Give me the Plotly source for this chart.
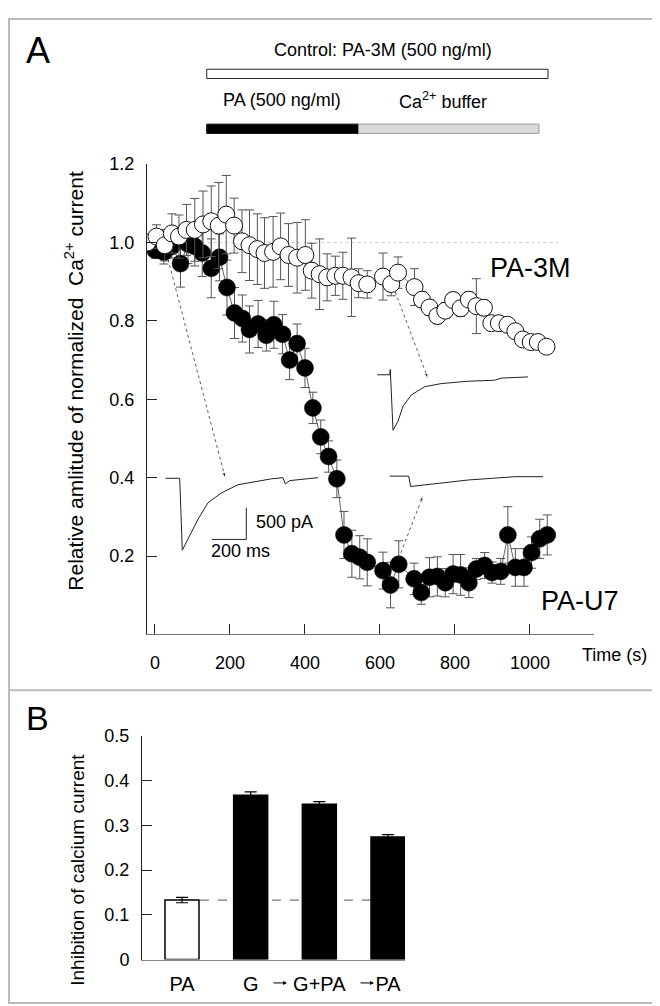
import plotly.graph_objects as go

W, H = 660, 1006
FONT = "Liberation Sans, Arial, sans-serif"


def px(x):
    return x / W


def py(y):
    return 1 - y / H


# ---- Panel A data: time (s), normalized amplitude, error
u7_t = [-20, 1, 24, 45, 68, 88, 106, 126, 150, 172, 192, 212, 233, 252, 275, 297, 317, 340,
        359, 379, 400, 421, 442, 463, 485, 504, 525, 546, 566, 608, 628, 650, 691, 710, 732,
        753, 774, 795, 815, 837, 857, 879, 899, 922, 941, 961, 984, 1004, 1026, 1046]
u7_v = [1.00, 0.98, 0.975, 0.99, 0.946, 0.996, 0.99, 0.973, 0.934, 0.962, 0.885, 0.82, 0.806,
        0.778, 0.792, 0.763, 0.79, 0.766, 0.70, 0.742, 0.68, 0.578, 0.504, 0.454, 0.397, 0.254,
        0.206, 0.197, 0.184, 0.163, 0.126, 0.179, 0.142, 0.107, 0.146, 0.148, 0.132, 0.154,
        0.152, 0.132, 0.167, 0.176, 0.158, 0.161, 0.254, 0.171, 0.171, 0.209, 0.244, 0.254]
u7_e = [0.01, 0.02, 0.03, 0.03, 0.06, 0.05, 0.05, 0.06, 0.075, 0.06, 0.07, 0.065, 0.06, 0.06,
        0.06, 0.04, 0.06, 0.05, 0.05, 0.05, 0.05, 0.04, 0.043, 0.04, 0.048, 0.06, 0.06, 0.055,
        0.06, 0.047, 0.058, 0.06, 0.04, 0.03, 0.05, 0.05, 0.036, 0.05, 0.052, 0.038, 0.027,
        0.033, 0.027, 0.033, 0.072, 0.048, 0.048, 0.04, 0.05, 0.051]

m3_t = [-20, 4, 26, 45, 64, 84, 106, 128, 150, 170, 190, 211, 232, 252, 273, 292, 315, 335,
        356, 379, 401, 418, 439, 459, 481, 501, 524, 543, 566, 608, 630, 648, 692, 712, 732,
        753, 774, 795, 815, 837, 857, 877, 897, 917, 940, 961, 981, 1002, 1021, 1044]
m3_v = [1.00, 1.015, 0.993, 1.023, 1.015, 1.032, 1.032, 1.046, 1.054, 1.043, 1.071, 1.043,
        1.003, 0.993, 0.983, 0.973, 0.976, 0.99, 0.968, 0.961, 0.968, 0.928, 0.919, 0.911,
        0.915, 0.915, 0.911, 0.896, 0.893, 0.913, 0.894, 0.923, 0.886, 0.854, 0.834, 0.8125,
        0.826, 0.853, 0.832, 0.854, 0.8375, 0.8335, 0.794, 0.794, 0.79, 0.7735, 0.7525,
        0.746, 0.746, 0.734]
m3_e = [0.02, 0.03, 0.04, 0.05, 0.055, 0.065, 0.08, 0.085, 0.09, 0.11, 0.10, 0.07, 0.08, 0.09,
        0.09, 0.09, 0.09, 0.085, 0.08, 0.09, 0.09, 0.07, 0.09, 0.06, 0.05, 0.06, 0.10, 0.037,
        0.035, 0.06, 0.03, 0.04, 0.047, 0.02, 0.02, 0.02, 0.02, 0.02, 0.02, 0.02, 0.07, 0.02,
        0.015, 0.015, 0.015, 0.01, 0.01, 0.01, 0.01, 0.01]

# current traces drawn as insets (in axis units)
trace1_t = [27.5, 65.9, 72.8, 88, 114.7, 141.3, 176.8, 221.3, 265.9, 310.1, 341.3, 347.5, 359.2, 434.7]
trace1_v = [0.3985, 0.3985, 0.215, 0.244, 0.294, 0.336, 0.361, 0.382, 0.39, 0.397, 0.40, 0.384, 0.3925, 0.40]
trace2_t = [625.9, 676.5, 681.9, 745.9, 834.7, 959.2, 1034.7]
trace2_v = [0.404, 0.404, 0.3775, 0.384, 0.394, 0.4025, 0.4025]
trace3_t = [592.8, 625.9, 627.5, 634.7, 648, 661.3, 683.5, 719.2, 763.5, 834.7, 905.9, 923.5, 994.7]
trace3_v = [0.6625, 0.6625, 0.676, 0.521, 0.544, 0.582, 0.611, 0.632, 0.64, 0.646, 0.6485, 0.654, 0.657]

arrows = [((34.7, 0.957), (187.5, 0.3985)),
          ((640.8, 0.8735), (728, 0.6525)),
          ((649.9, 0.194), (714.7, 0.354))]

scale_t = [152, 243.5, 243.5]
scale_v = [0.2425, 0.2425, 0.3235]

# application periods (s)
control_bar = (138, 1048)
pa_bar = (138, 543)
buffer_bar = (543, 1024)

# ---- Panel B data
b_labels = ["PA", "G", "G+PA", "PA"]
b_values = [0.133, 0.367, 0.347, 0.274]
b_errors = [0.006, 0.0075, 0.006, 0.005]
b_colors = ["white", "black", "black", "black"]

fig = go.Figure()

fig.add_trace(go.Scatter(
    x=u7_t, y=u7_v, mode="lines+markers",
    line=dict(color="#222", width=0.7),
    marker=dict(size=17, color="black", line=dict(color="black", width=0.5)),
    error_y=dict(type="data", array=u7_e, color="#555", thickness=1, width=4.5),
    xaxis="x", yaxis="y", showlegend=False))

fig.add_trace(go.Scatter(
    x=m3_t, y=m3_v, mode="lines+markers",
    line=dict(color="#444", width=0.7),
    marker=dict(size=17, color="white", line=dict(color="#111", width=1)),
    error_y=dict(type="data", array=m3_e, color="#555", thickness=1, width=4.5),
    xaxis="x", yaxis="y", showlegend=False))

for tt, vv in [(trace1_t, trace1_v), (trace2_t, trace2_v), (trace3_t, trace3_v)]:
    fig.add_trace(go.Scatter(x=tt, y=vv, mode="lines", line=dict(color="#222", width=1),
                             xaxis="x", yaxis="y", showlegend=False))

for (a, b) in arrows:
    fig.add_trace(go.Scatter(
        x=[a[0], b[0]], y=[a[1], b[1]], mode="lines+markers",
        line=dict(color="#333", width=0.8, dash="dot"),
        marker=dict(symbol=["circle", "arrow"], size=[1, 6], opacity=[0, 1],
                    angleref="previous", color="#333"),
        xaxis="x", yaxis="y", showlegend=False))

fig.add_trace(go.Scatter(x=scale_t, y=scale_v, mode="lines", line=dict(color="#222", width=1),
                         xaxis="x", yaxis="y", showlegend=False))

fig.add_trace(go.Bar(
    x=list(range(len(b_values))), y=b_values, width=0.495,
    marker=dict(color=b_colors, line=dict(color="black", width=1.5)),
    error_y=dict(type="data", array=b_errors, color="black", thickness=1.2, width=6),
    xaxis="x2", yaxis="y2", showlegend=False))

axis_common = dict(showgrid=False, zeroline=False, showline=True, ticks="inside",
                   ticklen=10, tickcolor="#222", linecolor="#222",
                   tickfont=dict(family=FONT, size=18, color="black"))

fig.update_layout(
    width=W, height=H, margin=dict(l=0, r=0, t=0, b=0),
    paper_bgcolor="white", plot_bgcolor="rgba(0,0,0,0)",
    font=dict(family=FONT, color="black"),
    xaxis=dict(domain=[px(139), px(586)], range=[-21.3, 1170.7], anchor="y",
               tickvals=[0, 200, 400, 600, 800, 1000], ticklabelstandoff=12,
               **{**axis_common, "linecolor": "#777"}),
    yaxis=dict(domain=[py(629), py(149)], range=[0, 1.2], anchor="x",
               tickvals=[0.2, 0.4, 0.6, 0.8, 1.0, 1.2], tickformat=".1f",
               ticklabelstandoff=8, **axis_common),
    xaxis2=dict(domain=[px(134), px(397)], range=[-0.5825, 3.2475], anchor="y2",
                tickvals=list(range(len(b_labels))), ticktext=b_labels,
                showgrid=False, zeroline=False, showline=True, linecolor="#888",
                ticks="", ticklabelstandoff=6,
                tickfont=dict(family=FONT, size=20, color="black")),
    yaxis2=dict(domain=[py(960.7), py(732.3)], range=[0, 0.5], anchor="x2",
                tickvals=[0, 0.1, 0.2, 0.3, 0.4, 0.5],
                ticktext=["0", "0.1", "0.2", "0.3", "0.4", "0.5"],
                ticklabelstandoff=8, **axis_common),
)

shapes = [
    # figure frame and panel divider
    dict(type="rect", xref="paper", yref="paper", x0=px(1), x1=px(658), y0=py(1005), y1=py(1),
         line=dict(color="#bbb", width=2)),
    dict(type="line", xref="paper", yref="paper", x0=px(1), x1=px(658), y0=py(686), y1=py(686),
         line=dict(color="#bbb", width=2)),
    # reference level 1.0
    dict(type="line", xref="x", yref="y", x0=-20, x1=1079, y0=1.0, y1=1.0, layer="below",
         line=dict(color="#ccc", width=1, dash="dot")),
    # application bars
    dict(type="rect", xref="x", yref="paper", x0=control_bar[0], x1=control_bar[1],
         y0=py(61.7), y1=py(52.3), fillcolor="white", line=dict(color="#222", width=1)),
    dict(type="rect", xref="x", yref="paper", x0=pa_bar[0], x1=pa_bar[1],
         y0=py(117.7), y1=py(108.3), fillcolor="black", line=dict(color="black", width=1)),
    dict(type="rect", xref="x", yref="paper", x0=buffer_bar[0], x1=buffer_bar[1],
         y0=py(117.7), y1=py(108.3), fillcolor="#dadada", line=dict(color="#999", width=1)),
    # PA level in panel B
    dict(type="line", xref="x2", yref="y2", x0=0, x1=3, y0=b_values[0], y1=b_values[0],
         layer="below", line=dict(color="#777", width=1.2, dash="dash")),
]
fig.update_layout(shapes=shapes)


def note(text, x, y, size, xanchor="center", angle=0, xref="paper", yref="paper"):
    fig.add_annotation(text=text, x=x, y=y, xref=xref, yref=yref, showarrow=False,
                       xanchor=xanchor, yanchor="middle", textangle=angle,
                       font=dict(family=FONT, size=size, color="black"))


note("A", px(30), py(33), 36)
note("B", px(29), py(714), 34)
note("Control: PA-3M (500 ng/ml)", px(375), py(32.5), 18)
note("PA (500 ng/ml)", px(274), py(84), 18)
note("Ca<sup>2+</sup> buffer", px(435), py(84), 18)
note("Relative amlitude of normalized\u00a0 Ca<sup>2+</sup> current", px(66), py(370), 21, angle=-90)
note("Time (s)", px(571.7), py(650), 18, xanchor="left")
note("PA-3M", 1001, 0.935, 27, xref="x", yref="y")
note("PA-U7", 1132.5, 0.086, 27, xref="x", yref="y")
note("500 pA", 264, 0.2875, 18, xanchor="left", xref="x", yref="y")
note("200 ms", 143, 0.2125, 18, xanchor="left", xref="x", yref="y")
note("Inhibition of calcium current", px(70), py(869), 19, angle=-90)

# sequence arrows between the bar labels of panel B
for tip in (279, 366):
    fig.add_annotation(x=px(tip), y=py(984.5), xref="paper", yref="paper", text="",
                       showarrow=True, ax=-15, ay=0, arrowhead=2, arrowsize=0.8,
                       arrowwidth=1, arrowcolor="black", standoff=0)

fig.write_html("out.html")
